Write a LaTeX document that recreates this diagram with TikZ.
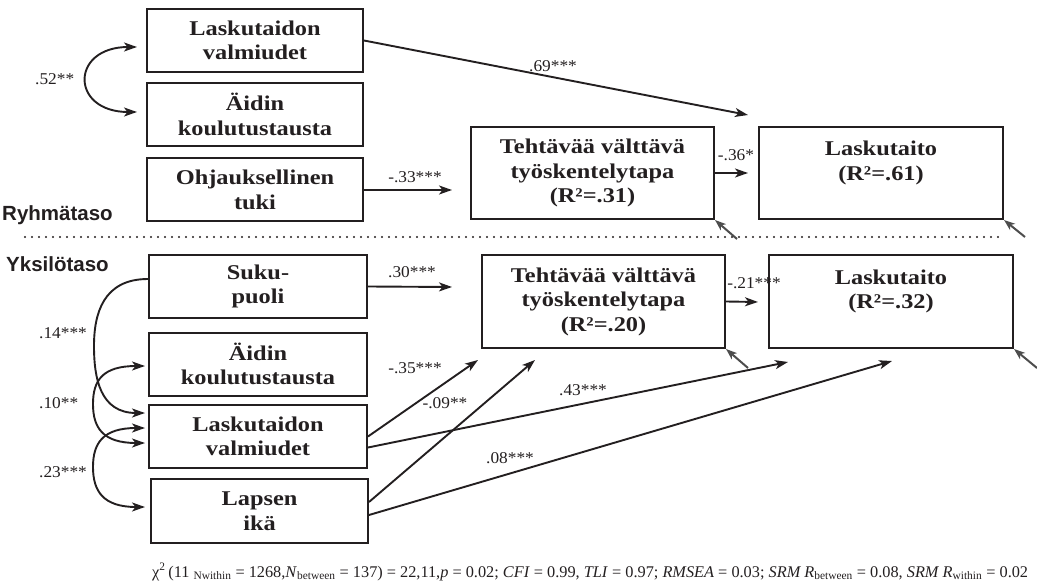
\documentclass[tikz,border=0pt]{standalone}
\usepackage{fontspec}
\setmainfont{Liberation Serif}
\newfontfamily\boxfont{Liberation Serif}[FakeStretch=1.16]
\newfontfamily\lblfont{Liberation Serif}[FakeStretch=1.05]
\newfontfamily\levelfont{Liberation Sans}
\usetikzlibrary{arrows.meta}
\definecolor{ink}{HTML}{231F20}
\definecolor{errgray}{HTML}{4D4D4D}
\begin{document}
\begin{tikzpicture}[x=1pt,y=-1pt,
  box/.style={draw=ink, line width=2pt, rectangle, inner sep=0pt, align=center, text=ink,
    font=\boxfont\bfseries\fontsize{21}{24.5}\selectfont},
  smallbox/.style={box, minimum width=216pt, minimum height=63pt},
  bigbox/.style={box, minimum width=243pt, minimum height=92pt},
  arr/.style={draw=ink, line width=1.9pt, -{Stealth[length=13pt,width=9pt,inset=3.5pt]}},
  darr/.style={draw=ink, line width=1.9pt, {Stealth[length=13pt,width=9pt,inset=3.5pt]}-{Stealth[length=13pt,width=9pt,inset=3.5pt]}},
  errarr/.style={draw=errgray, line width=2pt, -{Stealth[length=11pt,width=8pt,inset=3pt]}},
  lbl/.style={text=ink, inner sep=0pt, font=\lblfont\fontsize{16.5}{18}\selectfont},
  level/.style={text=ink, inner sep=0pt, anchor=base west, font=\levelfont\bfseries\fontsize{20.5}{23}\selectfont}
]
\useasboundingbox (0,0) rectangle (1037,583);

% ---------- group level ----------
\node[smallbox] (tLV) at (255,40.5) {Laskutaidon\\valmiudet};
\node[smallbox] (tAK) at (255,114.5) {Äidin\\koulutustausta};
\node[smallbox] (tOT) at (255,190) {Ohjauksellinen\\tuki};
\node[bigbox] (tTV) at (592.5,173) {Tehtävää välttävä\\työskentelytapa\\(R²=.31)};
\node[bigbox, minimum width=244pt] (tLT) at (881,173) {Laskutaito\\(R²=.61)\\\mbox{}};

\coordinate (t69) at (748,115);
\coordinate (t33) at (452,190);
\coordinate (t36) at (748,173);
\draw[arr] (tLV.east) -- (t69);
\draw[arr] (tOT.east) -- (t33);
\draw[arr] (tTV.east) -- (t36);

\coordinate (c52a) at (137,47);
\coordinate (c52b) at (137,112);
\draw[darr] (c52a) .. controls +(-67,0) and +(-67,0) .. (c52b);

\node[lbl] (l69) at (553,66) {.69***};
\node[lbl] (l33) at (415,177) {-.33***};
\node[lbl] (l36) at (736,155) {-.36*};
\node[lbl, anchor=west] (l52) at (35,79) {.52**};

\coordinate (e1) at (737,239);
\coordinate (e2) at (1025,237);
\draw[errarr] (e1) -- (tTV.south east);
\draw[errarr] (e2) -- (tLT.south east);

\node[level] (ryh) at (2,221) {Ryhmätaso};
\coordinate (dl) at (25,237);
\coordinate (dr) at (1005,237);
\draw[ink, line width=2.2pt, line cap=round, dash pattern=on 0pt off 7pt] (dl) -- (dr);
\node[level] (yks) at (6,271) {Yksilötaso};

% ---------- individual level ----------
\node[smallbox, minimum width=218pt] (bSP) at (258,286.5) {Suku-\\puoli};
\node[smallbox, minimum width=218pt] (bAK) at (258,364) {Äidin\\koulutustausta};
\node[smallbox, minimum width=218pt] (bLV) at (258,436.5) {Laskutaidon\\valmiudet};
\node[smallbox, minimum width=217pt, minimum height=64pt] (bLI) at (259.5,511) {Lapsen\\ikä};
\node[bigbox, minimum height=93pt] (bTV) at (603.5,301.5) {Tehtävää välttävä\\työskentelytapa\\(R²=.20)};
\node[bigbox, minimum width=244pt, minimum height=93pt] (bLT) at (891,301.5) {Laskutaito\\(R²=.32)\\\mbox{}};

\coordinate (t30) at (452,287);
\coordinate (t21) at (758,302);
\coordinate (t35) at (478,360);
\coordinate (t09) at (535,360);
\coordinate (t43) at (788,362);
\coordinate (t08) at (892,361);
\draw[arr] (bSP.east) -- (t30);
\draw[arr] (bTV.east) -- (t21);
\draw[arr] (bLV.east) -- (t35);
\draw[arr] ([yshift=-11pt]bLV.east) -- (t43);
\draw[arr] ([yshift=9pt]bLI.east) -- (t09);
\draw[arr] ([yshift=-4pt]bLI.east) -- (t08);

\node[lbl] (l30) at (412,272) {.30***};
\node[lbl] (l21) at (754,283) {-.21***};
\node[lbl] (l35) at (415,368) {-.35***};
\node[lbl] (l09) at (445,403) {-.09**};
\node[lbl] (l43) at (583,390) {.43***};
\node[lbl] (l08) at (510,458) {.08***};

\coordinate (c14b) at (145,413);
\coordinate (c10a) at (145,366);
\coordinate (c10b) at (145,443);
\coordinate (c23a) at (145,428);
\coordinate (c23b) at (145,507);
\coordinate (m14) at (94,346);
\coordinate (m10) at (93,404);
\coordinate (m23) at (93,467);
\draw[arr] ([yshift=7.5pt]bSP.west) .. controls +(-45,0) and +(0,-32) .. (m14) .. controls +(0,32) and +(-45,0) .. (c14b);
\draw[darr] (c10a) .. controls +(-42,0) and +(0,-24) .. (m10) .. controls +(0,24) and +(-42,0) .. (c10b);
\draw[darr] (c23a) .. controls +(-42,0) and +(0,-24) .. (m23) .. controls +(0,24) and +(-42,0) .. (c23b);

\node[lbl, anchor=west] (l14) at (39,333) {.14***};
\node[lbl, anchor=west] (l10) at (39,403) {.10**};
\node[lbl, anchor=west] (l23) at (39,472) {.23***};

\coordinate (e3) at (748,368);
\coordinate (e4) at (1037,368);
\draw[errarr] (e3) -- (bTV.south east);
\draw[errarr] (e4) -- (bLT.south east);

% ---------- footer ----------
\node[anchor=base west, inner sep=0pt, text=ink, font=\fontsize{16.3}{18}\selectfont] (fit) at (152,577)
  {χ\textsuperscript{2}\,(11\ \textsubscript{Nwithin} = 1268,\textit{N}\textsubscript{between} = 137) = 22,11,\textit{p} = 0.02; \textit{CFI} = 0.99, \textit{TLI} = 0.97; \textit{RMSEA} = 0.03; \textit{SRM R}\textsubscript{between} = 0.08, \textit{SRM R}\textsubscript{within} = 0.02};
\end{tikzpicture}
\end{document}
